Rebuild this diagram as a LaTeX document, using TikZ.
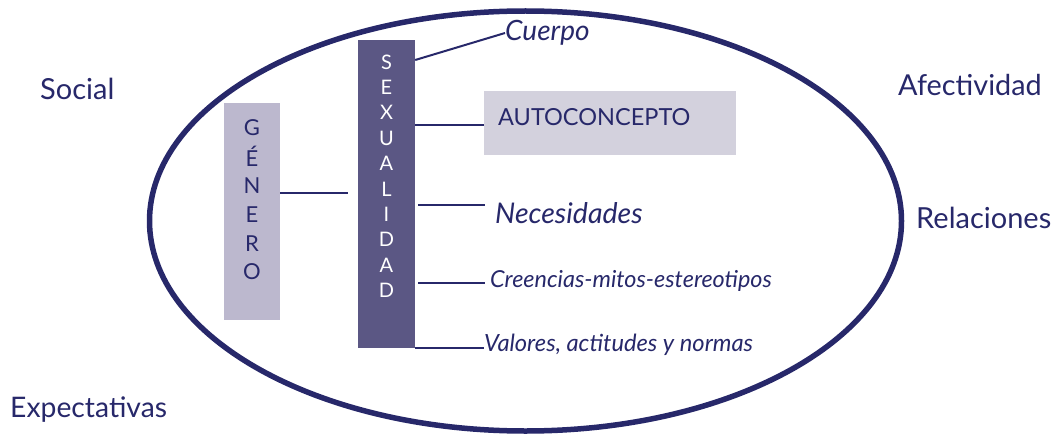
\documentclass[tikz,border=0pt]{standalone}
\usepackage{fontspec}
\setmainfont{Lato}
\definecolor{navy}{HTML}{27286A}
\definecolor{sexbox}{HTML}{5B5784}
\definecolor{genbox}{HTML}{BCB8CE}
\definecolor{autobox}{HTML}{D3D1DD}
\tikzset{
  conn/.style={draw=navy, line width=2pt},
  lbl/.style={text=navy, inner sep=0pt, anchor=west},
  it/.style={lbl, font=\itshape},
}
\begin{document}
\begin{tikzpicture}[x=1pt,y=-1pt]
\useasboundingbox (0,0) rectangle (1056,441);
% ellipse
\draw[navy, line width=5.5pt] (525.5,221) ellipse [x radius=376, y radius=210];
% boxes
\node[fill=genbox, minimum width=56pt, minimum height=217pt, inner sep=0pt] (gen) at (252,211.5) {};
\node[fill=sexbox, minimum width=57pt, minimum height=308pt, inner sep=0pt] (sex) at (386.5,194) {};
\node[fill=autobox, minimum width=252pt, minimum height=64pt, inner sep=0pt] (auto) at (610,123) {};
% vertical letters
\foreach \l [count=\i] in {S,E,X,U,A,L,I,D,A,D}
  \node[text=white, font=\fontsize{20}{20}\selectfont, inner sep=0pt] at (386.5, 62+25.4*\i-25.4) {\l};
\foreach \l [count=\i] in {G,É,N,E,R,O}
  \node[text=navy, font=\fontsize{22}{22}\selectfont, inner sep=0pt] at (252, 128+28.8*\i-28.8) {\l};
% labels
\node[it, font=\itshape\fontsize{28}{28}\selectfont] (cuerpo) at (505,33) {Cuerpo};
\node[lbl, font=\fontsize{23.5}{23.5}\selectfont] (autot) at (498,117) {AUTOCONCEPTO};
\node[it, font=\itshape\fontsize{28.5}{28.5}\selectfont] (nec) at (495,213) {Necesidades};
\node[it, font=\itshape\fontsize{23.4}{23.4}\selectfont] (cre) at (490,281) {Creencias-mitos-estereotipos};
\node[it, font=\itshape\fontsize{23.7}{23.7}\selectfont] (val) at (484,345) {Valores, actitudes y normas};
\node[lbl, font=\fontsize{29}{29}\selectfont] (soc) at (40,89) {Social};
\node[lbl, font=\fontsize{28.8}{28.8}\selectfont] (afe) at (898,85) {Afectividad};
\node[lbl, font=\fontsize{29}{29}\selectfont] (rel) at (916,218) {Relaciones};
\node[lbl, font=\fontsize{28.3}{28.3}\selectfont] (exp) at (10,410) {Expectativas};
% connectors
\coordinate (g1) at (348,193);
\draw[conn] (gen.east |- g1) -- (g1);
\draw[conn] (sex.east |- 0,60) -- (cuerpo.west);
\draw[conn] (sex.east |- 0,125) -- (auto.west |- 0,125);
\coordinate (n1) at (418,205); \coordinate (n2) at (485,205);
\draw[conn] (n1) -- (n2);
\coordinate (c1) at (418,283); \coordinate (c2) at (485,283);
\draw[conn] (c1) -- (c2);
\draw[conn] (sex.south east) -- (val.west |- sex.south east);
\end{tikzpicture}
\end{document}
